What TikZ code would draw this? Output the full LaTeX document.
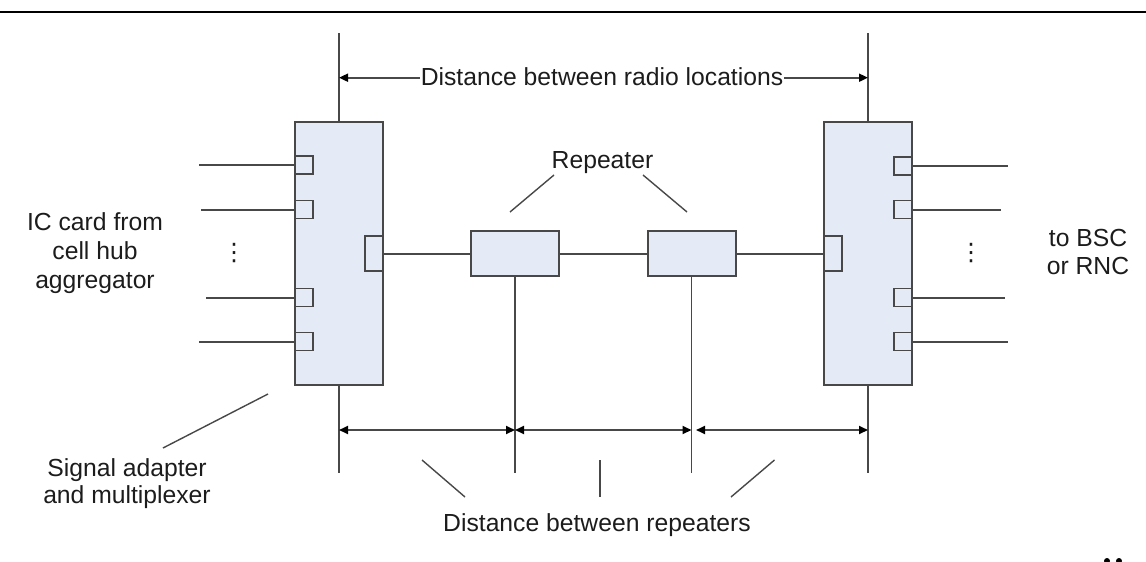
\documentclass[tikz,border=0pt]{standalone}
\usepackage{fontspec}
\setmainfont{Liberation Sans}
\newfontfamily\dejavu{DejaVu Sans}
\usetikzlibrary{arrows.meta}
\definecolor{linec}{RGB}{72,72,72}
\definecolor{boxfill}{RGB}{228,235,246}
\definecolor{txtc}{RGB}{28,28,28}
\begin{document}
\begin{tikzpicture}[x=1pt,y=-1pt,
  bigbox/.style={draw=linec,fill=boxfill,line width=2pt,minimum width=88pt,minimum height=263pt,inner sep=0pt,outer sep=0pt},
  repbox/.style={draw=linec,fill=boxfill,line width=2pt,minimum width=88pt,minimum height=45pt,inner sep=0pt,outer sep=0pt},
  port/.style={draw=linec,fill=boxfill,line width=1.8pt,minimum width=18pt,minimum height=18pt,inner sep=0pt,outer sep=0pt},
  conn/.style={draw=linec,line width=2pt},
  vline/.style={draw=linec,line width=1.7pt},
  lead/.style={draw=linec,line width=1.4pt},
  dimline/.style={draw=linec,line width=2pt,{Triangle[length=9pt,width=8pt,black]}-{Triangle[length=9pt,width=8pt,black]}},
  halfdim/.style={draw=linec,line width=1.8pt,-{Triangle[length=9pt,width=8pt,black]}},
  lbl/.style={text=txtc,font=\fontsize{24.7}{29}\selectfont,inner sep=0pt},
  dotlbl/.style={text=txtc,font=\dejavu\fontsize{24}{24}\selectfont,inner sep=0pt}
]
\useasboundingbox (0,0) rectangle (1146,562);
\draw[black,line width=2pt] (0,11.5) -- (1146,11.5);

% main boxes
\node[bigbox] (lb) at (339,253.5) {};
\node[bigbox] (rb) at (868,253.75) {};
% left box ports
\node[port] (lp1) at (304,165) {};
\node[port] (lp2) at (304,209.5) {};
\node[port] (lp3) at (304,297.5) {};
\node[port] (lp4) at (304,341.5) {};
\node[port,minimum height=35pt] (lo) at (374,253.5) {};
% repeaters
\node[repbox] (r1) at (515,253.5) {};
\node[repbox] (r2) at (691.5,253.5) {};
% right box ports
\node[port,minimum height=35pt] (ri) at (833,253.5) {};
\node[port] (rp1) at (903,166) {};
\node[port] (rp2) at (903,209.5) {};
\node[port] (rp3) at (903,297.5) {};
\node[port] (rp4) at (903,341.5) {};

% free line ends
\coordinate (lf1) at (199,165);
\coordinate (lf2) at (201,209.5);
\coordinate (lf3) at (206,297.5);
\coordinate (lf4) at (199,341.5);
\coordinate (rf1) at (1008,166);
\coordinate (rf2) at (1001,209.5);
\coordinate (rf3) at (1005,297.5);
\coordinate (rf4) at (1008,341.5);
\draw[conn] (lf1) -- (lp1.west);
\draw[conn] (lf2) -- (lp2.west);
\draw[conn] (lf3) -- (lp3.west);
\draw[conn] (lf4) -- (lp4.west);
\draw[conn] (rp1.east) -- (rf1);
\draw[conn] (rp2.east) -- (rf2);
\draw[conn] (rp3.east) -- (rf3);
\draw[conn] (rp4.east) -- (rf4);

% chain
\draw[conn] (lo.east) -- (r1.west);
\draw[conn] (r1.east) -- (r2.west);
\draw[conn] (r2.east) -- (ri.west);

% vertical reference lines
\coordinate (ltop) at (339,33);
\coordinate (rtop) at (868,33);
\coordinate (lbot) at (339,473);
\coordinate (rbot) at (868,473);
\coordinate (r1bot) at (515,473);
\coordinate (r2bot) at (691.5,473);
\draw[conn] (ltop) -- (lb.north);
\draw[conn] (rtop) -- (rb.north);
\draw[vline] (lb.south) -- (lbot);
\draw[vline] (rb.south) -- (rbot);
\draw[vline] (r1.south) -- (r1bot);
\draw[vline] (r2.south) -- (r2bot);

% top dimension
\node[lbl,anchor=base,inner xsep=1pt] (tt) at (602,85) {Distance between radio locations};
\coordinate (ta) at (339,77.7);
\coordinate (tb) at (868,77.7);
\draw[halfdim] (ta -| tt.west) -- (ta);
\draw[halfdim] (tb -| tt.east) -- (tb);

% bottom dimensions
\coordinate (d1) at (339,430);
\coordinate (d2) at (515,430);
\coordinate (d3) at (691.5,430);
\coordinate (d3b) at (696,430);
\coordinate (d4) at (868,430);
\draw[dimline] (d1) -- (d2);
\draw[dimline] (d2) -- (d3);
\draw[dimline] (d3b) -- (d4);

% labels
\node[lbl] (rep) at (602.5,0) [anchor=base,yshift=-168pt] {Repeater};
\coordinate (ra1) at (554,175);
\coordinate (ra2) at (510,212);
\coordinate (rb1) at (643,175);
\coordinate (rb2) at (687,212);
\draw[lead] (ra1) -- (ra2);
\draw[lead] (rb1) -- (rb2);

\node[lbl,align=center] (ic) at (95,253) {IC card from\\cell hub\\aggregator};
\node[lbl,align=center,font=\fontsize{24.7}{28.5}\selectfont] (bsc) at (1088,252) {to BSC\\or RNC};
\node[dotlbl] (ldots) at (234,253) {⋮};
\node[dotlbl] (rdots) at (971,253) {⋮};

\node[lbl,align=center,font=\fontsize{24.7}{27}\selectfont] (sam) at (127,484) {Signal adapter\\and multiplexer};
\coordinate (sa1) at (268,394);
\coordinate (sa2) at (163,448);
\draw[lead] (sa1) -- (sa2);

\node[lbl,anchor=base] (dbr) at (597,531) {Distance between repeaters};
\coordinate (db1a) at (422,460);
\coordinate (db1b) at (465,497);
\coordinate (db2a) at (600,460);
\coordinate (db2b) at (600,497);
\coordinate (db3a) at (774.5,460);
\coordinate (db3b) at (731,497);
\draw[lead] (db1a) -- (db1b);
\draw[lead] (db2a) -- (db2b);
\draw[lead] (db3a) -- (db3b);

% cut-off marks at the lower right edge
\fill[black] (1107,561) circle (3pt);
\fill[black] (1119,561) circle (3pt);
\end{tikzpicture}
\end{document}
